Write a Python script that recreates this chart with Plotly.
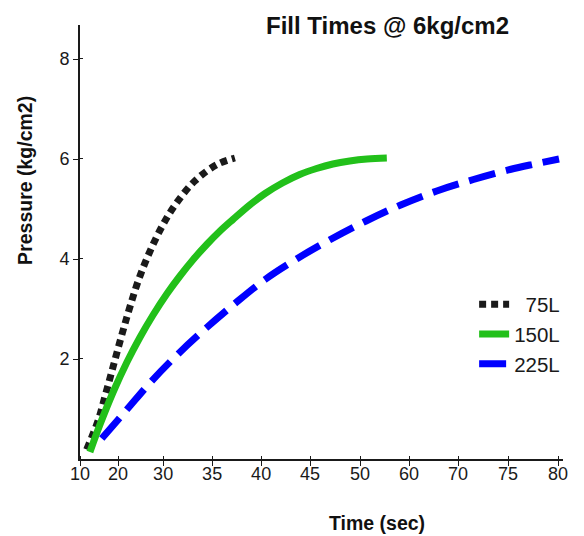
import plotly.graph_objects as go

# Tick labels of the time axis (evenly spaced labels on the original chart)
time_labels = ["10", "20", "30", "35", "40", "45", "50", "60", "70", "75", "80"]
time_tick_pos = [0, 0.77, 1.68, 2.67, 3.66, 4.65, 5.66, 6.65, 7.64, 8.65, 9.66]
pressure_ticks = [2, 4, 6, 8]

# Series (x in axis-position units, y in kg/cm2)
x_75 = [0.135, 0.37, 0.51, 0.64, 0.76, 0.89, 1.02, 1.19, 1.39, 1.64, 1.92, 2.32, 2.77, 3.13]
y_75 = [0.19, 0.78, 1.27, 1.74, 2.18, 2.64, 3.08, 3.60, 4.10, 4.62, 5.08, 5.56, 5.89, 6.02]

x_150 = [0.20, 0.40, 0.67, 0.95, 1.21, 1.47, 1.76, 2.02, 2.28, 2.57, 2.83, 3.09, 3.43, 3.74,
         4.09, 4.44, 4.78, 5.11, 5.45, 5.80, 6.20]
y_150 = [0.14, 0.68, 1.34, 1.94, 2.43, 2.87, 3.31, 3.66, 3.98, 4.30, 4.56, 4.79, 5.08, 5.31,
         5.52, 5.69, 5.81, 5.90, 5.96, 6.00, 6.02]

x_225 = [0.44, 0.94, 1.43, 1.97, 2.55, 3.13, 3.74, 4.41, 5.06, 5.78, 6.48, 7.21, 7.95, 8.69, 9.19, 9.68]
y_225 = [0.41, 0.98, 1.54, 2.09, 2.62, 3.11, 3.59, 4.02, 4.39, 4.76, 5.08, 5.36, 5.59, 5.79, 5.90, 6.00]

fig = go.Figure()
fig.add_trace(go.Scatter(x=x_75, y=y_75, mode="lines", name="  75L", legendgroup="a",
                         line=dict(color="#1a1a1a", width=7, dash="7px,5px", shape="spline")))
fig.add_trace(go.Scatter(x=x_150, y=y_150, mode="lines", name="150L", legendgroup="b",
                         line=dict(color="#22c01a", width=7, shape="spline")))
fig.add_trace(go.Scatter(x=x_225, y=y_225, mode="lines", name="225L", legendgroup="c",
                         line=dict(color="#0000ff", width=7, dash="27px,11px", shape="spline")))

font = "Liberation Sans, Arial, sans-serif"
axis_common = dict(showgrid=False, zeroline=False, showline=True, linecolor="#1a1a1a",
                   linewidth=2, ticks="outside", ticklen=5, tickcolor="#1a1a1a",
                   tickfont=dict(size=18, color="#1a1a1a"))
fig.update_layout(
    width=576, height=528,
    margin=dict(l=72, r=21, t=17, b=77),
    paper_bgcolor="white", plot_bgcolor="white",
    font=dict(family=font, size=18, color="#1a1a1a"),
    showlegend=True,
    legend=dict(x=0.816, y=0.402, xanchor="left", yanchor="top",
                font=dict(size=20.5, color="#1a1a1a"), tracegroupgap=0,
                bgcolor="rgba(0,0,0,0)"),
    xaxis=dict(range=[0, 9.76], tickvals=time_tick_pos, ticktext=time_labels,
               ticklabelstandoff=-8,
               minor=dict(tickvals=[v + 0.002 for v in time_tick_pos], ticks="inside",
                          ticklen=3, tickcolor="#1a1a1a"),
               **axis_common),
    yaxis=dict(range=[0, 8.68], tickvals=pressure_ticks,
               minor=dict(tickvals=[v + 0.002 for v in pressure_ticks], ticks="inside",
                          ticklen=3, tickcolor="#1a1a1a"),
               **axis_common),
    annotations=[
        dict(text="<b>Fill Times @ 6kg/cm2</b>", xref="paper", yref="paper",
             x=0.636, y=1.0, xanchor="center", yanchor="middle", showarrow=False,
             font=dict(size=24, color="#111")),
        dict(text="<b>Time (sec)</b>", xref="paper", yref="paper",
             x=0.615, y=-0.147, xanchor="center", yanchor="middle", showarrow=False,
             font=dict(size=19.5, color="#111")),
        dict(text="<b>Pressure (kg/cm2)</b>", xref="paper", yref="paper",
             x=-0.114, y=0.643, xanchor="center", yanchor="middle", showarrow=False,
             textangle=-90, font=dict(size=19.5, color="#111")),
    ],
)

fig.write_html("out.html")
